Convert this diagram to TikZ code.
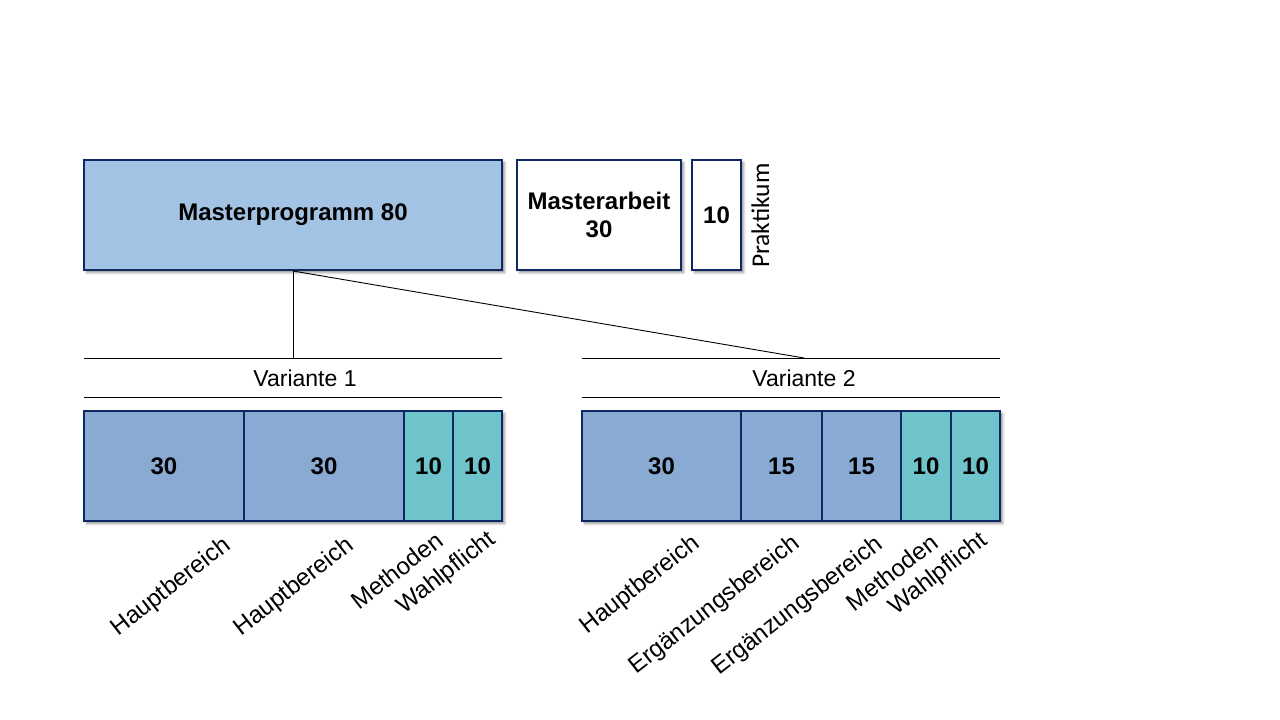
\documentclass[tikz,border=0pt]{standalone}
\usepackage{fontspec}
\setmainfont{Liberation Sans}
\newfontfamily\calib{Carlito}
\usetikzlibrary{shadows.blur}
\definecolor{navy}{HTML}{0E2862}
\definecolor{mpblue}{HTML}{A3C3E4}
\definecolor{boxblue}{HTML}{89ABD3}
\definecolor{tealbox}{HTML}{6FC3CA}
\begin{document}
\begin{tikzpicture}[x=1pt,y=-1pt,
  box/.style={draw=navy, line width=2pt, inner sep=0pt, minimum height=110pt,
    font=\bfseries\fontsize{24}{28}\selectfont, align=center},
  shad/.style={blur shadow={shadow xshift=2.5pt, shadow yshift=-2.5pt,
    shadow blur radius=2.5pt, shadow opacity=45}},
  diag/.style={rotate=38, anchor=north east, inner sep=0pt,
    font=\fontsize{24.2}{28}\selectfont},
  varlabel/.style={inner sep=0pt, font=\fontsize{23}{27}\selectfont},
  thinline/.style={line width=0.9pt, black}]
\useasboundingbox (0,0) rectangle (1280,720);

% top row
\node[box, shad, fill=mpblue, minimum width=418pt] (mp) at (293,215) {Masterprogramm 80};
\node[box, shad, fill=white, minimum width=164pt] (ma) at (599,215) {Masterarbeit\\30};
\node[box, shad, fill=white, minimum width=49pt] (pk) at (716.5,215) {10};
\node[rotate=90, anchor=base west, inner sep=0pt, font=\calib\fontsize{25.5}{28}\selectfont] (pl) at (769,268) {Praktikum};

% variant headers
\coordinate (v1) at (293,358);
\coordinate (v2) at (804,358);
\coordinate (l1a) at (84,358);  \coordinate (l1b) at (502,358);
\coordinate (l1c) at (84,397);  \coordinate (l1d) at (502,397);
\coordinate (l2a) at (582,358); \coordinate (l2b) at (1000,358);
\coordinate (l2c) at (582,397); \coordinate (l2d) at (1000,397);
\draw[thinline] (l1a) -- (l1b);
\draw[thinline] (l1c) -- (l1d);
\draw[thinline] (l2a) -- (l2b);
\draw[thinline] (l2c) -- (l2d);
\node[varlabel] (var1) at (305,378) {Variante 1};
\node[varlabel] (var2) at (804,378) {Variante 2};
\draw[thinline] (mp.south) -- (v1);
\draw[thinline] (mp.south) -- (v2);

% row shadows
\path[fill=white, shad] (84,411) rectangle (502,521);
\path[fill=white, shad] (582,411) rectangle (1000,521);

% variant 1 boxes
\node[box, fill=boxblue, minimum width=160pt] (b1) at (164,466) {30};
\node[box, fill=boxblue, minimum width=160pt] (b2) at (324,466) {30};
\node[box, fill=tealbox, minimum width=49pt] (b3) at (428.5,466) {10};
\node[box, fill=tealbox, minimum width=49pt] (b4) at (477.5,466) {10};

% variant 2 boxes
\node[box, fill=boxblue, minimum width=159pt] (c1) at (661.5,466) {30};
\node[box, fill=boxblue, minimum width=81pt] (c2) at (781.5,466) {15};
\node[box, fill=boxblue, minimum width=79pt] (c3) at (861.5,466) {15};
\node[box, fill=tealbox, minimum width=50pt] (c4) at (926,466) {10};
\node[box, fill=tealbox, minimum width=49pt] (c5) at (975.5,466) {10};

% diagonal labels
\node[diag] (t1) at (221,534) {Hauptbereich};
\node[diag] (t2) at (344,534) {Hauptbereich};
\node[diag] (t3) at (434,530) {Methoden};
\node[diag] (t4) at (486,528) {Wahlpflicht};
\node[diag] (u1) at (690,532) {Hauptbereich};
\node[diag] (u2) at (790,532) {Ergänzungsbereich};
\node[diag] (u3) at (873,533) {Ergänzungsbereich};
\node[diag] (u4) at (929,532) {Methoden};
\node[diag] (u5) at (978,529) {Wahlpflicht};
\end{tikzpicture}
\end{document}
